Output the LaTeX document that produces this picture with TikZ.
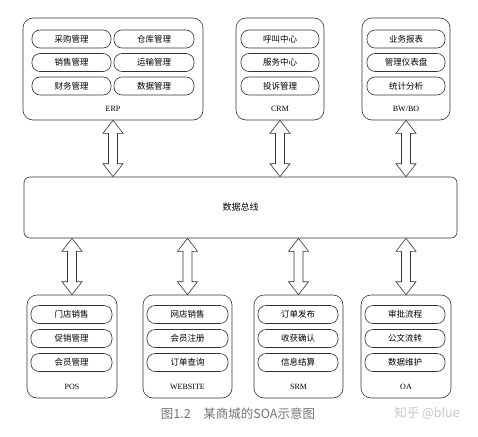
\documentclass[tikz,border=0pt]{standalone}
\usepackage{fontspec}
\setmainfont{Liberation Serif}
\newfontfamily\cjk{Noto Sans CJK SC}
\usetikzlibrary{positioning, calc}
\tikzstyle{BlockArrow} = [
%hollow two-headed bus arrow:
line width = 0.6pt, draw = black!80, fill = white, line join = miter
]
% #1 = upper end, #2 = lower end
\newcommand{\busarrow}[2]{%
\draw[BlockArrow](#1) -- ++(10,13) -- ++(-5.5,0) -- ($(#2)+(4.5,-13)$) -- ++(5.5,0) -- (#2)
	-- ++(-10,-13) -- ++(5.5,0) -- ($(#1)+(-4.5,13)$) -- ++(-5.5,0) -- cycle;}

\begin{document}
\begin{tikzpicture}[x = 1pt, y = -1pt,
			system/.style = {rectangle, draw = black!80, line width = 0.6pt, rounded corners = 10pt, inner sep = 0pt},
			module/.style = {rectangle, draw = black!80, line width = 0.6pt, rounded corners = 8pt, minimum height = 18pt, inner sep = 0pt, font = \cjk\fontsize{8.5}{10}\selectfont},
			sysname/.style = {font = \fontsize{8}{9}\selectfont},
			caption/.style = {font = \cjk\fontsize{12.5}{14}\selectfont, text = black!55},
		]
		\useasboundingbox (0,0) rectangle (478,436);

		% upper systems
		\node[system, minimum width = 180pt, minimum height = 102pt](erp) at (113,69){};
		\node[system, minimum width = 88pt, minimum height = 102pt](crm) at (280,69){};
		\node[system, minimum width = 88pt, minimum height = 102pt](bwbo) at (406,69){};

		\node[module, minimum width = 79pt](erp1) at (71.5,39){采购管理};
		\node[module, minimum width = 80pt](erp2) at (154,39){仓库管理};
		\node[module, minimum width = 79pt](erp3) at (71.5,62.5){销售管理};
		\node[module, minimum width = 80pt](erp4) at (154,62.5){运输管理};
		\node[module, minimum width = 79pt](erp5) at (71.5,86){财务管理};
		\node[module, minimum width = 80pt](erp6) at (154,86){数据管理};
		\node[sysname](erpname) at (113,109){ERP};

		\node[module, minimum width = 78pt](crm1) at (280,39){呼叫中心};
		\node[module, minimum width = 78pt](crm2) at (280,62.5){服务中心};
		\node[module, minimum width = 78pt](crm3) at (280,86){投诉管理};
		\node[sysname](crmname) at (280,109){CRM};

		\node[module, minimum width = 78pt](bw1) at (406,39){业务报表};
		\node[module, minimum width = 78pt](bw2) at (406,62.5){管理仪表盘};
		\node[module, minimum width = 78pt](bw3) at (406,86){统计分析};
		\node[sysname](bwname) at (406,109){BW/BO};

		% bus
		\node[system, rounded corners = 6pt, minimum width = 433pt, minimum height = 61pt, font = \cjk\fontsize{9}{10}\selectfont](bus) at (240.5,207.5){数据总线};

		% lower systems
		\node[system, minimum width = 90pt, minimum height = 103pt](pos) at (72,346.5){};
		\node[system, minimum width = 89pt, minimum height = 103pt](web) at (187.5,346.5){};
		\node[system, minimum width = 89pt, minimum height = 103pt](srm) at (298.5,346.5){};
		\node[system, minimum width = 90pt, minimum height = 103pt](oa) at (406,346.5){};

		\node[module, minimum width = 81pt](pos1) at (71.5,314.5){门店销售};
		\node[module, minimum width = 81pt](pos2) at (71.5,338.5){促销管理};
		\node[module, minimum width = 81pt](pos3) at (71.5,362.5){会员管理};
		\node[sysname](posname) at (72,387){POS};

		\node[module, minimum width = 81pt](web1) at (187.5,314.5){网店销售};
		\node[module, minimum width = 81pt](web2) at (187.5,338.5){会员注册};
		\node[module, minimum width = 81pt](web3) at (187.5,362.5){订单查询};
		\node[sysname](webname) at (187.5,387){WEBSITE};

		\node[module, minimum width = 80pt](srm1) at (298,314.5){订单发布};
		\node[module, minimum width = 80pt](srm2) at (298,338.5){收获确认};
		\node[module, minimum width = 80pt](srm3) at (298,362.5){信息结算};
		\node[sysname](srmname) at (298.5,387){SRM};

		\node[module, minimum width = 80pt](oa1) at (405,314.5){审批流程};
		\node[module, minimum width = 80pt](oa2) at (405,338.5){公文流转};
		\node[module, minimum width = 80pt](oa3) at (405,362.5){数据维护};
		\node[sysname](oaname) at (406,387){OA};

		% arrows
		\coordinate(erpbus) at (erp.south |- bus.north);
		\coordinate(crmbus) at (crm.south |- bus.north);
		\coordinate(bwbus) at (bwbo.south |- bus.north);
		\coordinate(buspos) at (bus.south -| pos.north);
		\coordinate(busweb) at (bus.south -| web.north);
		\coordinate(bussrm) at (bus.south -| srm.north);
		\coordinate(busoa) at (bus.south -| oa.north);

		\busarrow{erp.south}{erpbus}
		\busarrow{crm.south}{crmbus}
		\busarrow{bwbo.south}{bwbus}
		\busarrow{buspos}{pos.north}
		\busarrow{busweb}{web.north}
		\busarrow{bussrm}{srm.north}
		\busarrow{busoa}{oa.north}

		\node[caption](fig) at (238,414){图1.2\quad 某商城的SOA示意图};
		\node[caption, text = black!22](mark) at (427,413){知乎 @blue};
	\end{tikzpicture}
\end{document}
